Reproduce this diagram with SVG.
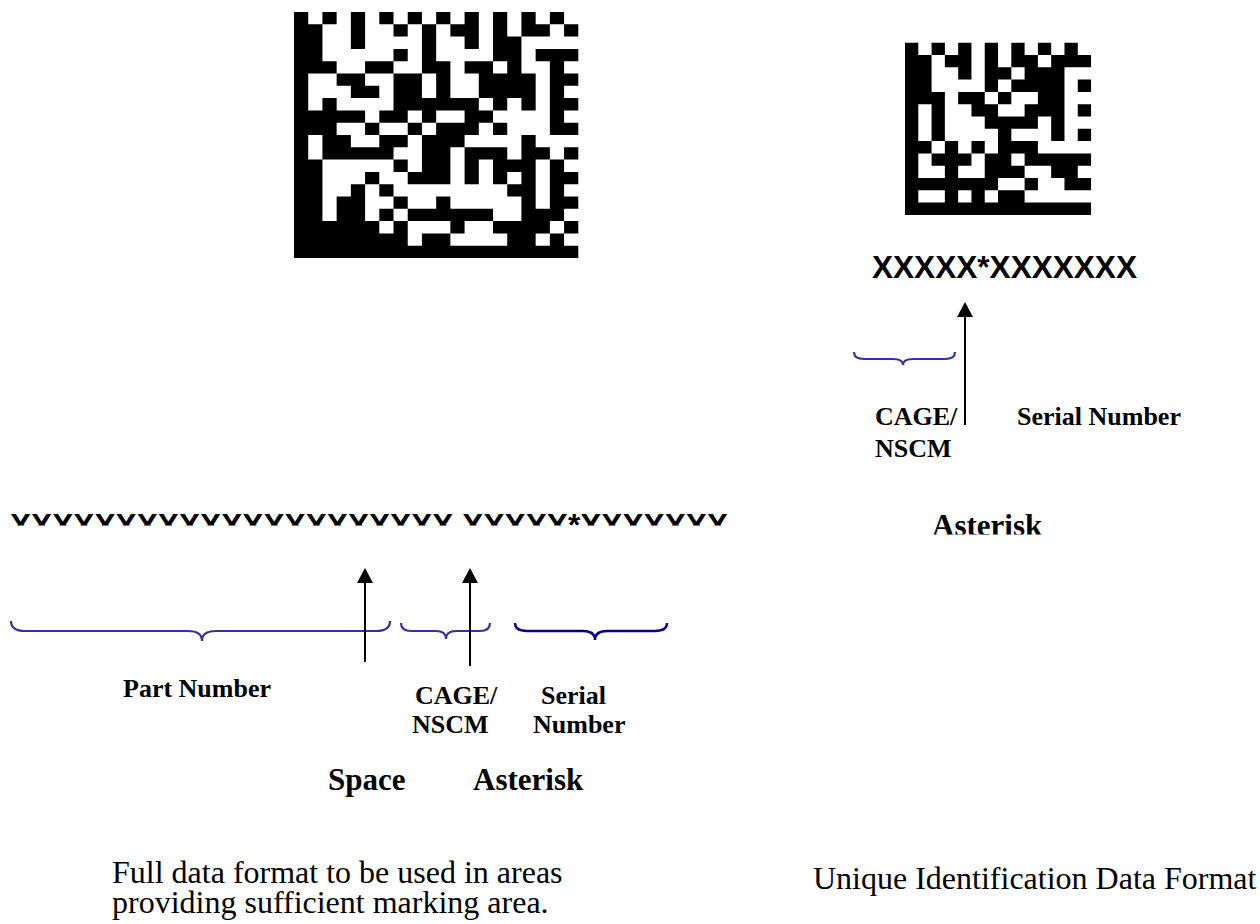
<svg xmlns="http://www.w3.org/2000/svg" width="1260" height="924" viewBox="0 0 1260 924">
  <style>
    .code { fill: #000000; }
    .xs { font-family: "Liberation Sans", Arial, sans-serif; font-weight: bold; font-size: 31.6px; fill: #000; }
    .lbl { font-family: "Liberation Serif", "Times New Roman", serif; font-weight: bold; font-size: 26px; fill: #000; }
    .lbl-lg { font-family: "Liberation Serif", "Times New Roman", serif; font-weight: bold; font-size: 31px; fill: #000; }
    .cap { font-family: "Liberation Serif", "Times New Roman", serif; font-size: 32px; fill: #000; }
    .arrow { stroke: #000; stroke-width: 2; fill: none; marker-end: url(#head); }
    .brace { fill: none; stroke: #333399; stroke-width: 2.2; }
    .brace-dark { fill: none; stroke: #000080; stroke-width: 2.4; }
  </style>
  <defs>
    <marker id="head" viewBox="0 0 15 16" markerWidth="15" markerHeight="16" refX="0" refY="8" orient="auto" markerUnits="userSpaceOnUse">
      <path d="M0,0 L15,8 L0,16 z" fill="#000"/>
    </marker>
    <clipPath id="clipLong">
      <rect x="0" y="495" width="760" height="30.5"/>
    </clipPath>
    <clipPath id="clipAst">
      <rect x="920" y="500" width="140" height="34.5"/>
    </clipPath>
  </defs>
  <rect x="0" y="0" width="1260" height="924" fill="#ffffff"/>

  <g id="matrix-full">
    <path class="code" transform="translate(294,12) scale(14.215,12.3)" d="M0 0h1v1h-1zM2 0h1v1h-1zM4 0h1v1h-1zM6 0h1v1h-1zM8 0h1v1h-1zM10 0h1v1h-1zM12 0h1v1h-1zM14 0h1v1h-1zM16 0h1v1h-1zM18 0h1v1h-1z
    M0 1h2v1h-2zM4 1h1v1h-1zM7 1h1v1h-1zM9 1h1v1h-1zM11 1h2v1h-2zM14 1h1v1h-1zM16 1h2v1h-2zM19 1h1v1h-1z
    M0 2h2v1h-2zM4 2h1v1h-1zM9 2h1v1h-1zM12 2h1v1h-1zM14 2h2v1h-2z
    M0 3h2v1h-2zM7 3h1v1h-1zM9 3h1v1h-1zM14 3h2v1h-2zM17 3h3v1h-3z
    M0 4h3v1h-3zM5 4h2v1h-2zM9 4h2v1h-2zM12 4h2v1h-2zM15 4h1v1h-1zM18 4h1v1h-1z
    M0 5h1v1h-1zM3 5h2v1h-2zM7 5h2v1h-2zM10 5h1v1h-1zM13 5h4v1h-4zM18 5h2v1h-2z
    M0 6h1v1h-1zM4 6h2v1h-2zM7 6h2v1h-2zM10 6h1v1h-1zM13 6h4v1h-4zM18 6h1v1h-1z
    M0 7h1v1h-1zM2 7h1v1h-1zM7 7h6v1h-6zM14 7h1v1h-1zM16 7h1v1h-1zM18 7h2v1h-2z
    M0 8h5v1h-5zM6 8h2v1h-2zM9 8h1v1h-1zM12 8h2v1h-2zM18 8h1v1h-1z
    M0 9h3v1h-3zM5 9h1v1h-1zM8 9h1v1h-1zM10 9h3v1h-3zM14 9h1v1h-1zM18 9h2v1h-2z
    M0 10h1v1h-1zM2 10h2v1h-2zM6 10h2v1h-2zM9 10h3v1h-3zM16 10h1v1h-1z
    M0 11h1v1h-1zM2 11h5v1h-5zM9 11h2v1h-2zM12 11h3v1h-3zM16 11h2v1h-2zM19 11h1v1h-1z
    M0 12h2v1h-2zM7 12h1v1h-1zM9 12h2v1h-2zM12 12h1v1h-1zM14 12h3v1h-3zM18 12h1v1h-1z
    M0 13h2v1h-2zM5 13h1v1h-1zM8 13h3v1h-3zM12 13h1v1h-1zM14 13h1v1h-1zM16 13h1v1h-1zM18 13h2v1h-2z
    M0 14h2v1h-2zM4 14h1v1h-1zM6 14h1v1h-1zM15 14h2v1h-2zM18 14h1v1h-1z
    M0 15h2v1h-2zM3 15h2v1h-2zM7 15h1v1h-1zM10 15h1v1h-1zM16 15h1v1h-1zM18 15h2v1h-2z
    M0 16h2v1h-2zM3 16h2v1h-2zM6 16h1v1h-1zM8 16h6v1h-6zM16 16h3v1h-3z
    M0 17h6v1h-6zM7 17h1v1h-1zM11 17h1v1h-1zM14 17h4v1h-4zM19 17h1v1h-1z
    M0 18h8v1h-8zM9 18h2v1h-2zM15 18h2v1h-2zM18 18h1v1h-1z
    M0 19h20v1h-20z"/>
  </g>

  <g id="matrix-uid">
    <path class="code" transform="translate(905,42.7) scale(13.29,12.3)" d="M0 0h1v1h-1zM2 0h1v1h-1zM4 0h1v1h-1zM6 0h1v1h-1zM8 0h1v1h-1zM10 0h1v1h-1zM12 0h1v1h-1z
    M0 1h2v1h-2zM3 1h2v1h-2zM6 1h1v1h-1zM8 1h2v1h-2zM11 1h3v1h-3z
    M0 2h2v1h-2zM4 2h1v1h-1zM6 2h2v1h-2zM9 2h3v1h-3z
    M0 3h2v1h-2zM6 3h1v1h-1zM8 3h4v1h-4zM13 3h1v1h-1z
    M0 4h3v1h-3zM4 4h2v1h-2zM7 4h1v1h-1zM10 4h2v1h-2z
    M0 5h1v1h-1zM2 5h1v1h-1zM5 5h2v1h-2zM9 5h3v1h-3zM13 5h1v1h-1z
    M0 6h1v1h-1zM2 6h1v1h-1zM6 6h4v1h-4zM11 6h1v1h-1z
    M0 7h1v1h-1zM2 7h1v1h-1zM7 7h1v1h-1zM11 7h1v1h-1zM13 7h1v1h-1z
    M0 8h2v1h-2zM3 8h1v1h-1zM5 8h1v1h-1zM7 8h3v1h-3z
    M0 9h1v1h-1zM2 9h3v1h-3zM6 9h2v1h-2zM9 9h5v1h-5z
    M0 10h1v1h-1zM3 10h1v1h-1zM6 10h3v1h-3zM11 10h2v1h-2z
    M0 11h7v1h-7zM9 11h1v1h-1zM12 11h2v1h-2z
    M0 12h1v1h-1zM3 12h1v1h-1zM5 12h1v1h-1zM7 12h2v1h-2z
    M0 13h14v1h-14z"/>
  </g>

  <g id="full-format-string">
    <text class="xs" x="10" y="535.6" clip-path="url(#clipLong)" textLength="718" lengthAdjust="spacing" xml:space="preserve">XXXXXXXXXXXXXXXXXXXXX XXXXX*XXXXXXX</text>
  </g>

  <g id="uid-string">
    <text class="xs" x="872" y="278" textLength="265" lengthAdjust="spacing">XXXXX*XXXXXXX</text>
  </g>

  <g id="braces">
    <path class="brace" d="M11 621 Q11 631 25 631 H188 Q202 631 202 641 Q202 631 216 631 H376 Q390 631 390 621"/>
    <path class="brace" d="M401 623 Q401 631 411 631 H436 Q446 631 446 639 Q446 631 456 631 H480 Q490 631 490 623"/>
    <path class="brace-dark" d="M515 623 Q515 631 527 631 H583 Q595 631 595 640 Q595 631 607 631 H655 Q667 631 667 623"/>
    <path class="brace" d="M854 352 Q854 359 864 359 H893 Q903 359 903 365 Q903 359 913 359 H945 Q955 359 955 352"/>
  </g>

  <g id="connectors">
    <line class="arrow" x1="365" y1="662" x2="365" y2="583"/>
    <line class="arrow" x1="470" y1="666" x2="470" y2="583"/>
    <line class="arrow" x1="965" y1="425" x2="965" y2="317"/>
  </g>

  <g id="label-part-number"><text class="lbl" x="123" y="697">Part Number</text></g>
  <g id="label-cage-left"><text class="lbl" x="415" y="704">CAGE/</text><text class="lbl" x="412" y="733">NSCM</text></g>
  <g id="label-serial-left"><text class="lbl" x="541" y="704">Serial</text><text class="lbl" x="533" y="733">Number</text></g>
  <g id="label-space"><text class="lbl-lg" x="328" y="790">Space</text></g>
  <g id="label-asterisk-left"><text class="lbl-lg" x="473" y="790">Asterisk</text></g>

  <g id="label-cage-right"><text class="lbl" x="875" y="425">CAGE/</text><text class="lbl" x="875" y="457">NSCM</text></g>
  <g id="label-serial-right"><text class="lbl" x="1017" y="425">Serial Number</text></g>
  <g id="label-asterisk-right"><text class="lbl-lg" x="932" y="536" clip-path="url(#clipAst)">Asterisk</text></g>

  <g id="caption-full">
    <text class="cap" x="112" y="883">Full data format to be used in areas</text>
    <text class="cap" x="112" y="913">providing sufficient marking area.</text>
  </g>
  <g id="caption-uid">
    <text class="cap" x="813" y="889">Unique Identification Data Format</text>
  </g>
</svg>
